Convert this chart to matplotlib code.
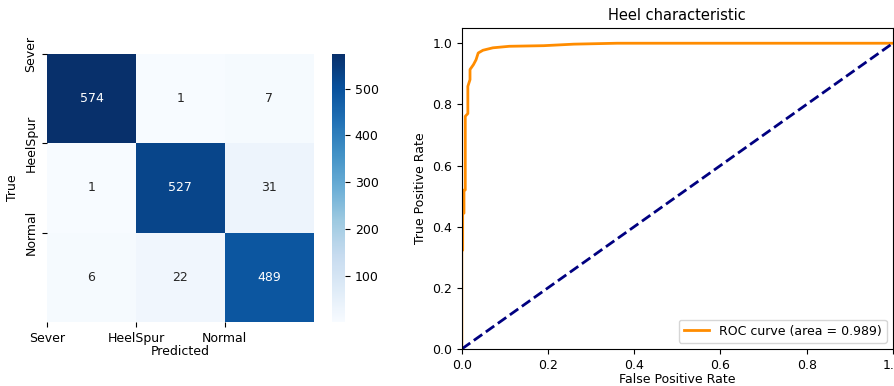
import matplotlib
matplotlib.use("Agg")
import matplotlib.pyplot as plt
import seaborn as sns
import numpy as np

classes = ["Sever", "HeelSpur", "Normal"]
cm = np.array([[574, 1, 7],
               [1, 527, 31],
               [6, 22, 489]])

# ROC points
fpr = [0.0, 0.0, 0.002, 0.002, 0.005, 0.005, 0.008, 0.008, 0.014, 0.014, 0.019, 0.019,
       0.027, 0.033, 0.038, 0.049, 0.072, 0.11, 0.19, 0.26, 0.36, 1.0]
tpr = [0.0, 0.323, 0.323, 0.444, 0.444, 0.52, 0.52, 0.761, 0.77, 0.859, 0.881, 0.914,
       0.93, 0.946, 0.968, 0.977, 0.985, 0.99, 0.992, 0.997, 1.0, 1.0]
roc_auc = 0.989

fig = plt.figure(figsize=(8.95, 3.86), dpi=100)
ax1 = fig.add_axes([0.0525, 0.166, 0.298, 0.694])
cax = fig.add_axes([0.371, 0.166, 0.0145, 0.694])
ax2 = fig.add_axes([0.516, 0.096, 0.4816, 0.8316])

sns.heatmap(cm, annot=True, fmt="d", cmap="Blues", ax=ax1, cbar_ax=cax,
            annot_kws={"size": 9})
ax1.set_xticks(range(3))
ax1.set_xticklabels(classes, rotation=0, fontsize=9)
ax1.set_yticks(range(3))
ax1.set_yticklabels(classes, rotation=90, va="center", fontsize=9)
ax1.set_xlabel("Predicted", fontsize=9, labelpad=0)
ax1.set_ylabel("True", fontsize=9)
cax.tick_params(labelsize=9)
cax.set_yticks([100, 200, 300, 400, 500])

ax2.plot(fpr, tpr, color="darkorange", lw=2, label="ROC curve (area = %0.3f)" % roc_auc)
ax2.plot([0, 1], [0, 1], color="navy", lw=2, linestyle="--")
ax2.set_xlim([0.0, 1.0])
ax2.set_ylim([0.0, 1.05])
ax2.set_xlabel("False Positive Rate", fontsize=9, labelpad=1)
ax2.set_ylabel("True Positive Rate", fontsize=9)
ax2.set_title("Heel characteristic", fontsize=10.5)
ax2.tick_params(labelsize=9)
ax2.legend(loc="lower right", fontsize=9)

fig.savefig("out.png", dpi=100)
